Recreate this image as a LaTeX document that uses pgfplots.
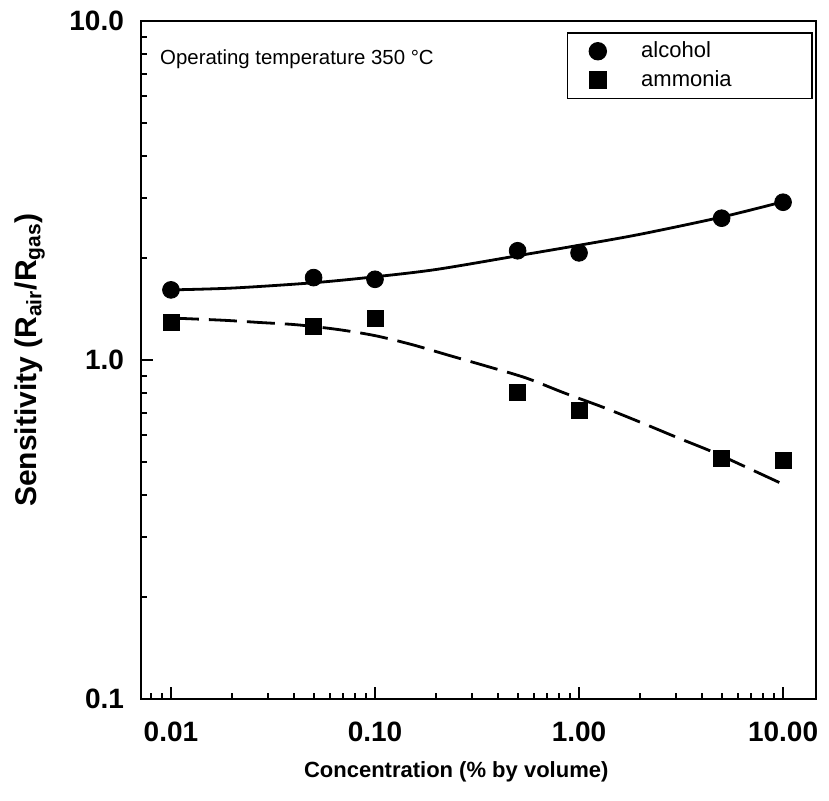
\documentclass[border=0pt]{standalone}
\usepackage{fontspec}
\setmainfont{Liberation Sans}
\usepackage{pgfplots}
\pgfplotsset{compat=1.18}

\begin{document}
\begin{tikzpicture}
\begin{axis}[
  name=ax,
  scale only axis,
  width=337.5pt, height=339pt,
  xmode=log, ymode=log,
  xmin=0.00713, xmax=14.5,
  ymin=0.1, ymax=10,
  axis line style={line width=1.3pt},
  tick align=inside,
  xtick pos=bottom, ytick pos=left,
  xtick={0.01,0.1,1,10}, xticklabels={0.01,0.10,1.00,10.00},
  ytick={0.1,1,10}, yticklabels={0.1,1.0,10.0},
  minor xtick={0.008,0.009,0.02,0.03,0.04,0.05,0.06,0.07,0.08,0.09,0.2,0.3,0.4,0.5,0.6,0.7,0.8,0.9,2,3,4,5,6,7,8,9},
  minor ytick={0.2,0.3,0.4,0.5,0.6,0.7,0.8,0.9,2,3,4,5,6,7,8,9},
  major tick length=6pt, minor tick length=3pt,
  major tick style={line width=1.2pt, black},
  minor tick style={line width=1pt, black},
  xticklabel style={font=\bfseries\fontsize{14}{14}\selectfont, yshift=-8pt},
  yticklabel style={font=\bfseries\fontsize{14}{14}\selectfont, xshift=-5pt},
  xlabel={Concentration (\% by volume)},
  ylabel={Sensitivity (R\textsubscript{air}/R\textsubscript{gas})},
  xlabel style={font=\bfseries\fontsize{11}{13}\selectfont,
    at={(axis description cs:0.467,-0.1077)}, anchor=center},
  ylabel style={font=\bfseries\fontsize{15}{17}\selectfont,
    at={(axis description cs:-0.165,0.5)}, anchor=center},
  legend style={at={(0.9956,0.9838)}, anchor=north east, draw=black, line width=0.8pt,
    font=\fontsize{11}{13}\selectfont, inner xsep=11pt, inner ysep=2.5pt, row sep=1pt,
    column sep=15.5pt, cells={anchor=west}, nodes={text width=72.5pt}},
  legend cell align=left,
]
\addplot[only marks, mark=*, mark size=4.2pt, black] coordinates {
  (0.01,1.61) (0.05,1.75) (0.1,1.73) (0.5,2.10) (1,2.07) (5,2.62) (10,2.92)};
\addplot[only marks, mark=square*, mark size=4pt, black] coordinates {
  (0.01,1.29) (0.05,1.26) (0.1,1.33) (0.5,0.805) (1,0.712) (5,0.514) (10,0.507)};
\addplot[black, line width=1.4pt, smooth, no markers, forget plot] coordinates {
  (0.01,1.61) (0.02,1.63) (0.05,1.69) (0.1,1.76) (0.2,1.85) (0.5,2.03)
  (1,2.18) (2,2.35) (5,2.64) (10,2.93)};
\addplot[black, line width=1.4pt, dash pattern=on 14pt off 5pt, smooth, no markers, forget plot] coordinates {
  (0.01,1.33) (0.018,1.31) (0.0273,1.29) (0.0415,1.27) (0.0659,1.23) (0.1,1.18)
  (0.152,1.11) (0.233,1.03) (0.35,0.96) (0.55,0.885) (0.844,0.80) (1.30,0.727)
  (1.99,0.656) (3.06,0.589) (4.54,0.535) (7.05,0.474) (10,0.43)};
\legend{alcohol, ammonia}
\node[anchor=west, font=\fontsize{10.2}{12}\selectfont] at (axis description cs:0.018,0.944)
  {Operating temperature 350 °C};
\end{axis}
\pgfresetboundingbox
\path (ax.south west) ++(-70.5pt,-51pt) rectangle ++(414.5pt,400.5pt);
\end{tikzpicture}
\end{document}
